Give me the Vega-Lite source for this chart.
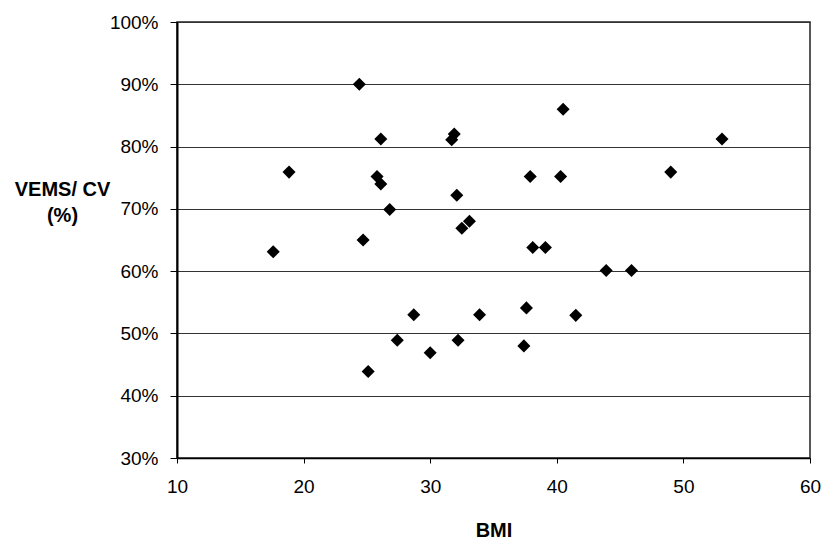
{
  "$schema": "https://vega.github.io/schema/vega-lite/v6.json",
  "autosize": "none",
  "width": 633,
  "height": 436,
  "padding": {"left": 177, "top": 22, "right": 17, "bottom": 84},
  "background": "white",
  "config": {
    "view": {"stroke": "#222", "strokeWidth": 1.5},
    "font": "Liberation Sans"
  },
  "data": {
    "values": [
      {"bmi": 24.4, "ratio": 0.90},
      {"bmi": 26.1, "ratio": 0.812},
      {"bmi": 31.9, "ratio": 0.82},
      {"bmi": 31.7, "ratio": 0.811},
      {"bmi": 18.85, "ratio": 0.759},
      {"bmi": 25.8, "ratio": 0.752},
      {"bmi": 26.1, "ratio": 0.74},
      {"bmi": 32.1, "ratio": 0.722},
      {"bmi": 26.8, "ratio": 0.699},
      {"bmi": 33.1, "ratio": 0.68},
      {"bmi": 32.5, "ratio": 0.669},
      {"bmi": 24.7, "ratio": 0.65},
      {"bmi": 17.6, "ratio": 0.631},
      {"bmi": 40.5, "ratio": 0.86},
      {"bmi": 53.05, "ratio": 0.812},
      {"bmi": 37.9, "ratio": 0.752},
      {"bmi": 40.3, "ratio": 0.752},
      {"bmi": 49.0, "ratio": 0.759},
      {"bmi": 38.1, "ratio": 0.638},
      {"bmi": 39.1, "ratio": 0.638},
      {"bmi": 28.7, "ratio": 0.53},
      {"bmi": 33.9, "ratio": 0.53},
      {"bmi": 27.4, "ratio": 0.489},
      {"bmi": 32.2, "ratio": 0.489},
      {"bmi": 30.0, "ratio": 0.469},
      {"bmi": 25.1, "ratio": 0.439},
      {"bmi": 43.9, "ratio": 0.601},
      {"bmi": 45.9, "ratio": 0.601},
      {"bmi": 37.6, "ratio": 0.541},
      {"bmi": 41.5, "ratio": 0.529},
      {"bmi": 37.4, "ratio": 0.48}
    ]
  },
  "mark": {"type": "point", "shape": "diamond", "filled": true, "color": "black", "opacity": 1, "size": 170},
  "encoding": {
    "x": {
      "field": "bmi", "type": "quantitative",
      "scale": {"domain": [10, 60], "nice": false, "zero": false},
      "axis": {
        "values": [10, 20, 30, 40, 50, 60],
        "grid": false, "labelFlush": false,
        "domainColor": "black", "domainWidth": 1.5,
        "tickColor": "black", "tickSize": 5,
        "labelFont": "Liberation Sans", "labelFontSize": 19, "labelColor": "black", "labelPadding": 14,
        "title": "BMI", "titleFont": "Liberation Sans", "titleFontSize": 20, "titleFontWeight": "bold",
        "titleColor": "black", "titleBaseline": "alphabetic", "titleY": 78
      }
    },
    "y": {
      "field": "ratio", "type": "quantitative",
      "scale": {"domain": [0.3, 1.0], "nice": false, "zero": false},
      "axis": {
        "values": [0.3, 0.4, 0.5, 0.6, 0.7, 0.8, 0.9, 1.0],
        "format": ".0%", "labelFlush": false,
        "grid": true, "gridColor": "#333", "gridWidth": 1,
        "domainColor": "black", "domainWidth": 2,
        "tickColor": "black", "tickSize": 7,
        "labelFont": "Liberation Sans", "labelFontSize": 19, "labelColor": "black", "labelPadding": 12,
        "title": ["VEMS/ CV", "(%)"], "titleFont": "Liberation Sans", "titleFontSize": 20,
        "titleFontWeight": "bold", "titleColor": "black",
        "titleAngle": 0, "titleAlign": "center", "titleBaseline": "alphabetic",
        "titleX": -115, "titleY": 173, "titleLineHeight": 26
      }
    }
  }
}
